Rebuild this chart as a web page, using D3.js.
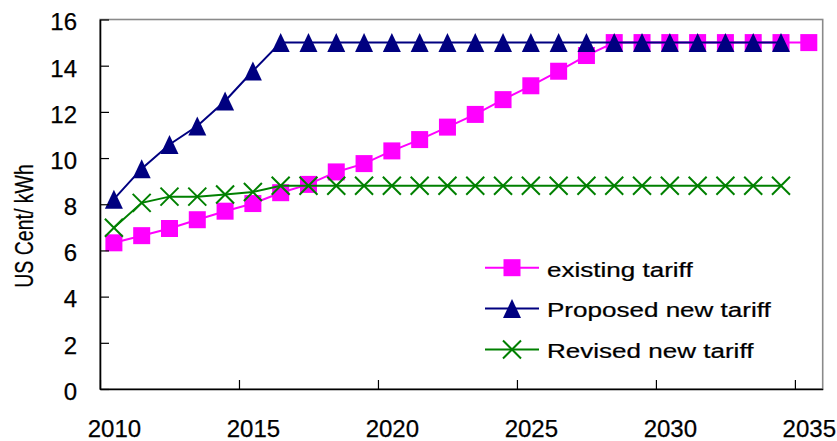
<!DOCTYPE html>
<html>
<head>
<meta charset="utf-8">
<script src="https://cdn.jsdelivr.net/npm/d3@7"></script>
<style>
  html, body { margin: 0; padding: 0; background: #fff; }
  svg { display: block; font-family: "Liberation Sans", Arial, sans-serif; }
  text { stroke: #000; stroke-width: 0.25px; }
</style>
</head>
<body>
<svg id="chart" width="837" height="441"></svg>
<script>
// Tariff outlook, US cents per kWh, one value per year
const years = d3.range(2010, 2036);
const existingTariff = [6.33, 6.64, 6.95, 7.33, 7.70, 8.03, 8.50, 8.86, 9.40, 9.76,
  10.31, 10.80, 11.34, 11.89, 12.53, 13.13, 13.76, 14.44, 15, 15, 15, 15, 15, 15, 15, 15];
const proposedTariff = [8.22, 9.54, 10.59, 11.39, 12.47, 13.77, 15, 15, 15, 15,
  15, 15, 15, 15, 15, 15, 15, 15, 15, 15, 15, 15, 15, 15, 15];
const revisedTariff = [6.98, 8.06, 8.33, 8.33, 8.42, 8.53, 8.8, 8.8, 8.8, 8.8,
  8.8, 8.8, 8.8, 8.8, 8.8, 8.8, 8.8, 8.8, 8.8, 8.8, 8.8, 8.8, 8.8, 8.8, 8.8];
const seriesNames = ["existing tariff", "Proposed new tariff", "Revised new tariff"];
const xTickYears = [2010, 2015, 2020, 2025, 2030, 2035];
const yTicks = [0, 2, 4, 6, 8, 10, 12, 14, 16];
const yTitle = "US Cent/ kWh";

const series = [
  { name: seriesNames[0], values: existingTariff, color: "#ff00ff", marker: "square" },
  { name: seriesNames[1], values: proposedTariff, color: "#000080", marker: "triangle" },
  { name: seriesNames[2], values: revisedTariff, color: "#008000", marker: "cross" }
];

const svg = d3.select("#chart");
const plotLeft = 100, plotRight = 822.7, plotTop = 19.5, plotBottom = 389;

// each year occupies one category slot; points sit in the middle of the slot
const x = d3.scaleLinear().domain([2010, 2036]).range([plotLeft, plotRight]);
const xc = yr => x(yr + 0.5);
const y = d3.scaleLinear().domain([0, 16]).range([plotBottom, plotTop]);

// plot frame (grey top / right edges)
svg.append("rect")
  .attr("x", plotLeft).attr("y", plotTop)
  .attr("width", plotRight - plotLeft).attr("height", plotBottom - plotTop)
  .attr("fill", "#fff").attr("stroke", "#8a8a8a").attr("stroke-width", 1.6);

function drawMarker(g, type, cx, cy, color) {
  if (type === "square") {
    g.append("rect").attr("x", cx - 8.5).attr("y", cy - 8.5)
      .attr("width", 17).attr("height", 17).attr("fill", color);
  } else if (type === "triangle") {
    g.append("path")
      .attr("d", `M${cx},${cy - 9.5}L${cx + 9},${cy + 9.5}L${cx - 9},${cy + 9.5}Z`)
      .attr("fill", color);
  } else {
    g.append("path")
      .attr("d", `M${cx - 9},${cy - 9}L${cx + 9},${cy + 9}M${cx - 9},${cy + 9}L${cx + 9},${cy - 9}`)
      .attr("stroke", color).attr("stroke-width", 2).attr("fill", "none");
  }
}

const line = d3.line().x(d => xc(d.year)).y(d => y(d.value));

series.forEach(s => {
  const pts = s.values.map((v, i) => ({ year: years[i], value: v }));
  const g = svg.append("g");
  g.append("path").datum(pts)
    .attr("d", line).attr("fill", "none")
    .attr("stroke", s.color).attr("stroke-width", 2);
  pts.forEach(p => drawMarker(g, s.marker, xc(p.year), y(p.value), s.color));
});

// y axis
const yAxis = svg.append("g").attr("transform", `translate(${plotLeft},0)`)
  .call(d3.axisLeft(y).tickValues(yTicks).tickSizeInner(-9).tickSizeOuter(0).tickPadding(23));
yAxis.select(".domain").attr("stroke", "#000").attr("stroke-width", 1.6);
yAxis.selectAll(".tick line").attr("stroke", "#000").attr("stroke-width", 1.2);
yAxis.selectAll(".tick text").attr("font-size", 24).attr("fill", "#000")
  .attr("font-family", "Liberation Sans, Arial, sans-serif").attr("dy", "0.43em");

// x axis: tick marks on slot boundaries, labels centred in the slot
const xAxis = svg.append("g").attr("transform", `translate(0,${plotBottom})`)
  .call(d3.axisBottom(x).tickValues(xTickYears).tickFormat(d3.format("d"))
    .tickSizeInner(-9).tickSizeOuter(0).tickPadding(31));
xAxis.select(".domain").attr("stroke", "#000").attr("stroke-width", 1.6);
xAxis.selectAll(".tick line").attr("stroke", "#000").attr("stroke-width", 1.2);
xAxis.selectAll(".tick text").attr("font-size", 24).attr("fill", "#000")
  .attr("font-family", "Liberation Sans, Arial, sans-serif")
  .attr("x", (x(2011) - x(2010)) / 2);

// y axis title
svg.append("text")
  .attr("transform", `translate(33,226) rotate(-90) scale(0.78,1)`)
  .attr("text-anchor", "middle").attr("font-size", 25).attr("fill", "#000")
  .text(yTitle);

// legend
const legend = svg.append("g");
const legendRows = [267.7, 308.5, 349.5];
series.forEach((s, i) => {
  const ly = legendRows[i];
  legend.append("line").attr("x1", 485).attr("x2", 539).attr("y1", ly).attr("y2", ly)
    .attr("stroke", s.color).attr("stroke-width", 2);
  drawMarker(legend, s.marker, 512, ly, s.color);
  legend.append("text")
    .attr("transform", `translate(547,${ly + 8.8}) scale(1.24,1)`)
    .attr("font-size", 21).attr("fill", "#000")
    .text(s.name);
});
</script>
</body>
</html>
